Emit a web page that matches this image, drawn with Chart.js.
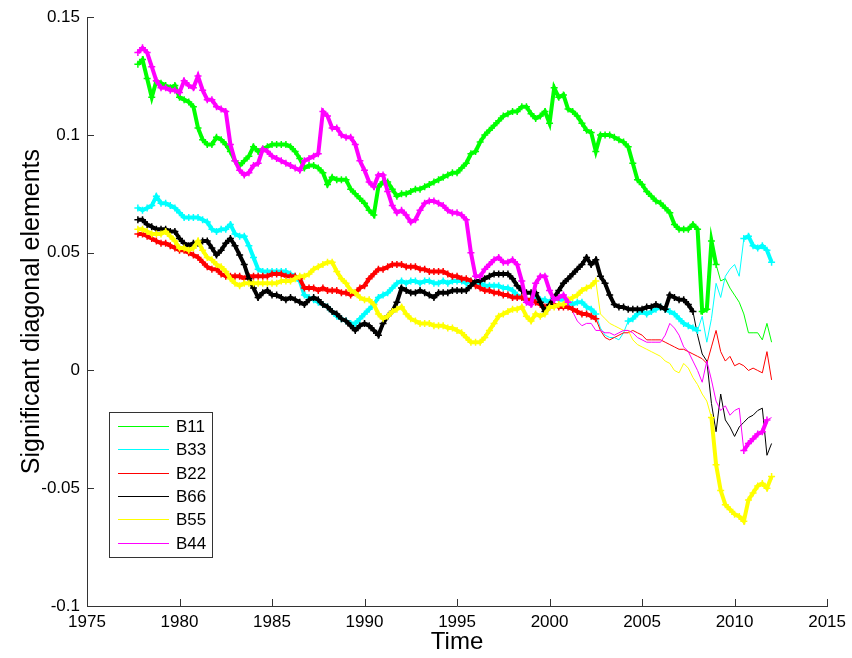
<!DOCTYPE html>
<html lang="en">
<head>
<meta charset="UTF-8">
<title>Significant diagonal elements</title>
<script src="https://cdn.jsdelivr.net/npm/chart.js"></script>
<style>
    body {
        margin: 0;
        background: #fff;
    }

    #wrap {
        width: 852px;
        height: 658px;
    }
</style>
</head>
<body>
<div id="wrap"><canvas id="chart" width="852" height="658"></canvas></div>
<script>
    // quarterly samples, first one at 1977.75
    const startYear = 1977.75;
    const stepYear = 0.25;

    const seriesNames = ['B11', 'B33', 'B22', 'B66', 'B55', 'B44'];
    const seriesColors = ['#00ff00', '#00ffff', '#ff0000', '#000000', '#ffff00', '#ff00ff'];

    const b11 = [
        0.130,
        0.132, 0.124, 0.116, 0.123,
        0.122, 0.121, 0.120, 0.121,
        0.116, 0.115, 0.114, 0.112,
        0.103, 0.098, 0.096, 0.096,
        0.099, 0.098, 0.096, 0.093,
        0.089, 0.087, 0.089, 0.091,
        0.095, 0.093, 0.094, 0.095,
        0.096, 0.096, 0.096, 0.096,
        0.095, 0.093, 0.090, 0.086,
        0.087, 0.087, 0.086, 0.084,
        0.079, 0.082, 0.081, 0.081,
        0.081, 0.077, 0.075, 0.073,
        0.071, 0.068, 0.066, 0.078,
        0.080, 0.080, 0.077, 0.074,
        0.075, 0.075, 0.076, 0.077,
        0.077, 0.078, 0.079, 0.080,
        0.081, 0.082, 0.083, 0.084,
        0.084, 0.086, 0.088, 0.092,
        0.093, 0.097, 0.100, 0.102,
        0.104, 0.106, 0.108, 0.109,
        0.110, 0.110, 0.112, 0.112,
        0.109, 0.107, 0.108, 0.110,
        0.105, 0.120, 0.116, 0.117,
        0.111, 0.110, 0.108, 0.105,
        0.102, 0.101, 0.093, 0.100,
        0.100, 0.100, 0.099, 0.098,
        0.097, 0.095, 0.088, 0.081,
        0.079, 0.076, 0.074, 0.072,
        0.071, 0.069, 0.067, 0.062,
        0.060, 0.060, 0.060, 0.062,
        0.060, 0.025, 0.026, 0.055,
        0.045, 0.038, 0.039, 0.035,
        0.032, 0.029, 0.024, 0.016,
        0.016, 0.016, 0.013, 0.020,
        0.012
    ];

    const b33 = [
        0.069,
        0.068, 0.069, 0.070, 0.074,
        0.071, 0.071, 0.070, 0.069,
        0.067, 0.065, 0.065, 0.065,
        0.065, 0.064, 0.063, 0.060,
        0.059, 0.060, 0.060, 0.062,
        0.058, 0.057, 0.057, 0.053,
        0.048, 0.043, 0.042, 0.042,
        0.042, 0.042, 0.042, 0.042,
        0.041, 0.040, 0.038, 0.032,
        0.031, 0.030, 0.029, 0.028,
        0.027, 0.025, 0.023, 0.022,
        0.021, 0.020, 0.020, 0.022,
        0.024, 0.026, 0.028, 0.031,
        0.032, 0.033, 0.035, 0.037,
        0.038, 0.037, 0.038, 0.038,
        0.037, 0.038, 0.038, 0.037,
        0.037, 0.038, 0.037, 0.038,
        0.038, 0.038, 0.037, 0.038,
        0.037, 0.037, 0.036, 0.036,
        0.036, 0.036, 0.035, 0.035,
        0.034, 0.032, 0.031, 0.030,
        0.030, 0.031, 0.030, 0.030,
        0.029, 0.031, 0.030, 0.030,
        0.029, 0.028, 0.029, 0.029,
        0.027, 0.026, 0.024, 0.018,
        0.015, 0.014, 0.014, 0.013,
        0.016, 0.021, 0.022, 0.024,
        0.025, 0.024, 0.025, 0.026,
        0.027, 0.026, 0.025, 0.024,
        0.022, 0.020, 0.019, 0.018,
        0.017, 0.023, 0.012, 0.022,
        0.037, 0.031, 0.040, 0.043,
        0.045, 0.040, 0.056, 0.057,
        0.053, 0.052, 0.053, 0.051,
        0.046
    ];

    const b22 = [
        0.058,
        0.058, 0.057, 0.056, 0.055,
        0.054, 0.054, 0.053, 0.052,
        0.051, 0.051, 0.050, 0.049,
        0.048, 0.046, 0.044, 0.043,
        0.043, 0.041, 0.040, 0.040,
        0.040, 0.040, 0.039, 0.040,
        0.040, 0.040, 0.040, 0.040,
        0.041, 0.041, 0.041, 0.040,
        0.040, 0.040, 0.039, 0.035,
        0.035, 0.035, 0.034, 0.035,
        0.034, 0.034, 0.034, 0.033,
        0.033, 0.032, 0.033, 0.035,
        0.036, 0.039, 0.041, 0.043,
        0.043, 0.044, 0.045, 0.045,
        0.045, 0.044, 0.044, 0.044,
        0.043, 0.043, 0.042, 0.042,
        0.042, 0.042, 0.041, 0.040,
        0.040, 0.039, 0.039, 0.038,
        0.036, 0.035, 0.034, 0.034,
        0.033, 0.033, 0.032, 0.032,
        0.031, 0.031, 0.031, 0.030,
        0.030, 0.029, 0.028, 0.027,
        0.027, 0.028, 0.027, 0.027,
        0.027, 0.026, 0.025, 0.024,
        0.024, 0.023, 0.022, 0.017,
        0.014, 0.013, 0.014, 0.015,
        0.016, 0.016, 0.017, 0.016,
        0.015, 0.013, 0.013, 0.013,
        0.013, 0.012, 0.011, 0.010,
        0.009, 0.009, 0.008, 0.007,
        0.006, 0.005, 0.003, 0.010,
        0.017, 0.008, 0.004, 0.006,
        0.002, 0.003, 0.002, 0.000,
        0.001, 0.000, -0.001, 0.008,
        -0.004
    ];

    const b66 = [
        0.064,
        0.064, 0.062, 0.061, 0.060,
        0.060, 0.060, 0.059, 0.059,
        0.056, 0.054, 0.053, 0.054,
        0.054, 0.055, 0.055, 0.052,
        0.049, 0.051, 0.054, 0.056,
        0.053, 0.049, 0.045, 0.039,
        0.035, 0.031, 0.033, 0.034,
        0.032, 0.032, 0.031, 0.030,
        0.031, 0.030, 0.029, 0.028,
        0.030, 0.031, 0.030, 0.028,
        0.027, 0.025, 0.024, 0.022,
        0.021, 0.019, 0.017, 0.019,
        0.020, 0.019, 0.017, 0.015,
        0.020, 0.023, 0.025, 0.029,
        0.035, 0.034, 0.033, 0.033,
        0.034, 0.033, 0.032, 0.031,
        0.033, 0.033, 0.033, 0.034,
        0.034, 0.034, 0.034, 0.036,
        0.038, 0.038, 0.039, 0.040,
        0.041, 0.041, 0.041, 0.041,
        0.039, 0.036, 0.034, 0.033,
        0.033, 0.033, 0.029, 0.025,
        0.028, 0.031, 0.034, 0.037,
        0.039, 0.041, 0.043, 0.045,
        0.048, 0.045, 0.047, 0.040,
        0.037, 0.032, 0.028, 0.027,
        0.027, 0.026, 0.026, 0.026,
        0.026, 0.027, 0.027, 0.028,
        0.027, 0.026, 0.032, 0.031,
        0.030, 0.030, 0.028, 0.025,
        0.015, 0.007, 0.004, -0.014,
        -0.026, -0.010, -0.021, -0.024,
        -0.028, -0.024, -0.022, -0.020,
        -0.019, -0.017, -0.016, -0.036,
        -0.031
    ];

    const b55 = [
        0.060,
        0.060, 0.059, 0.058, 0.058,
        0.058, 0.059, 0.057, 0.055,
        0.052, 0.052, 0.051, 0.052,
        0.055, 0.051, 0.048, 0.047,
        0.045, 0.044, 0.042, 0.039,
        0.037, 0.036, 0.037, 0.037,
        0.037, 0.037, 0.037, 0.037,
        0.037, 0.037, 0.038, 0.038,
        0.038, 0.039, 0.040, 0.040,
        0.041, 0.043, 0.044, 0.045,
        0.046, 0.046, 0.042, 0.039,
        0.037, 0.034, 0.033, 0.031,
        0.030, 0.030, 0.028, 0.024,
        0.022, 0.023, 0.025, 0.026,
        0.027, 0.024, 0.022, 0.021,
        0.020, 0.020, 0.020, 0.019,
        0.019, 0.019, 0.018, 0.018,
        0.017, 0.016, 0.014, 0.012,
        0.012, 0.012, 0.014, 0.017,
        0.020, 0.023, 0.024, 0.025,
        0.026, 0.026, 0.027, 0.023,
        0.021, 0.024, 0.023, 0.024,
        0.027, 0.027, 0.028, 0.028,
        0.030, 0.031, 0.032, 0.034,
        0.035, 0.036, 0.038, 0.024,
        0.022, 0.020, 0.019, 0.018,
        0.017, 0.017, 0.013, 0.011,
        0.010, 0.009, 0.008, 0.007,
        0.006, 0.004, 0.003, 0.000,
        -0.001, 0.003, 0.001, -0.003,
        -0.006, -0.010, -0.013, -0.020,
        -0.040, -0.051, -0.057, -0.059,
        -0.061, -0.062, -0.064, -0.055,
        -0.052, -0.049, -0.048, -0.050,
        -0.045
    ];

    const b44 = [
        0.135,
        0.137, 0.135, 0.129, 0.123,
        0.120, 0.120, 0.119, 0.119,
        0.118, 0.123, 0.121, 0.120,
        0.125, 0.119, 0.115, 0.115,
        0.112, 0.111, 0.110, 0.096,
        0.089, 0.085, 0.083, 0.084,
        0.087, 0.088, 0.094, 0.093,
        0.091, 0.090, 0.089, 0.088,
        0.087, 0.086, 0.085, 0.089,
        0.090, 0.091, 0.092, 0.110,
        0.108, 0.103, 0.103, 0.100,
        0.099, 0.099, 0.096, 0.089,
        0.085, 0.080, 0.078, 0.083,
        0.083, 0.076, 0.070, 0.067,
        0.068, 0.066, 0.063, 0.064,
        0.068, 0.071, 0.072, 0.072,
        0.071, 0.070, 0.068, 0.067,
        0.067, 0.066, 0.064, 0.050,
        0.040, 0.040, 0.043, 0.045,
        0.047, 0.048, 0.046, 0.046,
        0.047, 0.045, 0.038, 0.029,
        0.028, 0.037, 0.040, 0.040,
        0.034, 0.030, 0.031, 0.032,
        0.029, 0.025, 0.021, 0.019,
        0.020, 0.020, 0.017, 0.017,
        0.016, 0.016, 0.015, 0.016,
        0.017, 0.017, 0.016, 0.014,
        0.013, 0.012, 0.012, 0.012,
        0.012, 0.015, 0.020, 0.018,
        0.015, 0.010, 0.008, 0.004,
        0.000, -0.005, 0.004, -0.004,
        -0.013, -0.017, -0.015, -0.019,
        -0.017, -0.016, -0.034, -0.031,
        -0.029, -0.027, -0.026, -0.021,
        -0.020
    ];

    // periods where the element is significant (drawn thick)
    const b11Sig = [[1977.75, 2009.0]];
    const b33Sig = [[1977.75, 2002.5], [2004.25, 2008.0], [2010.5, 2012.0]];
    const b22Sig = [[1977.75, 2002.5]];
    const b66Sig = [[1977.75, 2007.75]];
    const b55Sig = [[1977.75, 2002.5], [2008.75, 2012.0]];
    const b44Sig = [[1977.75, 2001.0], [2010.5, 2011.75]];

    const xTicks = [1975, 1980, 1985, 1990, 1995, 2000, 2005, 2010, 2015];
    const yTicks = [-0.1, -0.05, 0, 0.05, 0.1, 0.15];
    const yTickLabels = ['-0.1', '-0.05', '0', '0.05', '0.1', '0.15'];

    const fontFamily = "'Liberation Sans', Arial, sans-serif";

    const allValues = [b11, b33, b22, b66, b55, b44];
    const allSig = [b11Sig, b33Sig, b22Sig, b66Sig, b55Sig, b44Sig];
    const years = b11.map((_, i) => startYear + i * stepYear);

    function toPoints(vals) {
        return vals.map((v, i) => ({ x: years[i], y: v }));
    }

    function toSigPoints(vals, spans) {
        return vals.map((v, i) => {
            const t = years[i];
            const on = spans.some(s => t >= s[0] - 1e-6 && t <= s[1] + 1e-6);
            return { x: t, y: on ? v : null };
        });
    }

    const datasets = [];
    seriesNames.forEach((name, i) => {
        datasets.push({
            label: name,
            data: toPoints(allValues[i]),
            borderColor: seriesColors[i],
            borderWidth: 1,
            pointRadius: 0,
            tension: 0,
            order: 20 - i
        });
    });
    // significant stretches: thick line with '+' markers, like the original plot
    seriesNames.forEach((name, i) => {
        datasets.push({
            label: name + ' sig',
            data: toSigPoints(allValues[i], allSig[i]),
            borderColor: seriesColors[i],
            backgroundColor: seriesColors[i],
            borderWidth: 4,
            pointStyle: 'cross',
            pointRadius: 3.5,
            pointBorderWidth: 1.5,
            pointBorderColor: seriesColors[i],
            tension: 0,
            spanGaps: false,
            order: 10 - i
        });
    });

    // MATLAB style ticks pointing into the axes
    const innerTicks = {
        id: 'innerTicks',
        afterDatasetsDraw(chart) {
            const { ctx, chartArea, scales } = chart;
            ctx.save();
            ctx.fillStyle = '#333';
            xTicks.forEach(v => {
                const px = Math.round(scales.x.getPixelForValue(v));
                ctx.fillRect(px, Math.round(chartArea.bottom) - 7, 1, 7);
            });
            yTicks.forEach(v => {
                const py = Math.round(scales.y.getPixelForValue(v));
                ctx.fillRect(Math.round(chartArea.left), py, 7, 1);
            });
            ctx.restore();
        }
    };

    // boxed legend inside the axes, lower left
    const boxLegend = {
        id: 'boxLegend',
        afterDraw(chart) {
            const { ctx, chartArea } = chart;
            const left = Math.round(chartArea.left + 22);
            const top = Math.round(chartArea.top + 395);
            const w = 103;
            const h = 145;
            ctx.save();
            ctx.fillStyle = '#fff';
            ctx.fillRect(left, top, w, h);
            ctx.fillStyle = '#333';
            ctx.fillRect(left, top, w, 1);
            ctx.fillRect(left, top + h, w + 1, 1);
            ctx.fillRect(left, top, 1, h);
            ctx.fillRect(left + w, top, 1, h);
            ctx.font = '17px ' + fontFamily;
            ctx.textBaseline = 'middle';
            seriesNames.forEach((name, i) => {
                const y = Math.round(top + 14 + i * 23.3);
                ctx.fillStyle = seriesColors[i];
                ctx.fillRect(left + 9, y, 51, 1);
                ctx.fillStyle = '#000';
                ctx.fillText(name, left + 67, y + 1);
            });
            ctx.restore();
        }
    };

    new Chart(document.getElementById('chart'), {
        type: 'line',
        data: { datasets },
        options: {
            responsive: false,
            animation: false,
            devicePixelRatio: 1,
            layout: { padding: { top: 17, right: 21, left: 0, bottom: 0 } },
            plugins: {
                legend: { display: false },
                tooltip: { enabled: false }
            },
            scales: {
                x: {
                    type: 'linear',
                    min: 1975,
                    max: 2015,
                    afterBuildTicks: s => { s.ticks = xTicks.map(v => ({ value: v })); },
                    afterFit: s => { s.height = 52; },
                    ticks: {
                        callback: v => String(v),
                        color: '#000',
                        padding: 6,
                        maxRotation: 0,
                        autoSkip: false,
                        font: { family: fontFamily, size: 17 }
                    },
                    grid: { display: false, drawTicks: false },
                    border: { display: true, color: '#333', width: 1 },
                    title: {
                        display: true,
                        text: 'Time',
                        color: '#000',
                        padding: { top: 0, bottom: 1 },
                        font: { family: fontFamily, size: 24 }
                    }
                },
                y: {
                    type: 'linear',
                    min: -0.1,
                    max: 0.15,
                    afterBuildTicks: s => { s.ticks = yTicks.map(v => ({ value: v })); },
                    afterFit: s => { s.width = 87; },
                    ticks: {
                        callback: v => yTickLabels[yTicks.indexOf(v)],
                        color: '#000',
                        padding: 7,
                        font: { family: fontFamily, size: 17 }
                    },
                    grid: { display: false, drawTicks: false },
                    border: { display: true, color: '#333', width: 1 },
                    title: {
                        display: true,
                        text: 'Significant diagonal elements',
                        color: '#000',
                        padding: { top: 17, bottom: 0 },
                        font: { family: fontFamily, size: 25 }
                    }
                }
            }
        },
        plugins: [innerTicks, boxLegend]
    });
</script>
</body>
</html>
